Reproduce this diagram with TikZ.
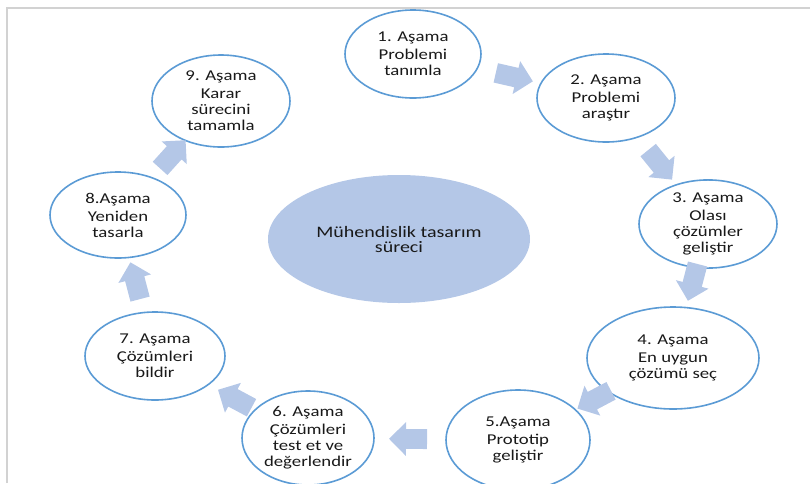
\documentclass[tikz,border=0pt]{standalone}
\usepackage{fontspec}
\setmainfont{Carlito}[FakeStretch=1.25]
\usetikzlibrary{shapes.geometric, shapes.arrows, calc}
\definecolor{rimblue}{RGB}{91,155,213}
\definecolor{paleblue}{RGB}{180,199,231}
\definecolor{framegray}{RGB}{210,210,210}

\begin{document}
\begin{tikzpicture}[
    x=0.5pt, y=-0.5pt, % one unit is one pixel of the sketch, y runs down
    every node/.style={font={\fontsize{7.5}{8}\selectfont}, text=black!90}, % text of all nodes
    stage/.style={ellipse, draw=rimblue, line width=0.8pt, fill=white, inner sep=0pt, align=center}, % the nine steps
    core/.style={ellipse, fill=paleblue, inner sep=0pt, align=center, font={\fontsize{8}{7.5}\selectfont}},
    flow/.style={single arrow, fill=paleblue, inner xsep=0pt, inner ysep=4.75pt, minimum height=19pt,
      single arrow head extend=3.5pt}
  ]

  \path[use as bounding box, clip] (0,0) rectangle (810,483);
  \draw[framegray, line width=1pt] (7,483) -- (7,8) -- (810,8);

  \node[core, minimum width=131pt, minimum height=64pt] (m) at (399,239) {Mühendislik tasarım\\süreci};

  \node[stage, minimum width=68pt, minimum height=44pt] (a1) at (413,54) {1. Aşama\\[1pt]Problemi\\tanımla};
  \node[stage, minimum width=69pt, minimum height=44pt] (a2) at (606,98) {2. Aşama\\[1pt]Problemi\\araştır};
  \node[stage, minimum width=69pt, minimum height=41pt] (a3) at (708,224) {3. Aşama\\[1pt]Olası\\çözümler\\geliştir};
  \node[stage, minimum width=86pt, minimum height=51pt] (a4) at (673,358) {4. Aşama\\[1pt]En uygun\\çözümü seç};
  \node[stage, minimum width=72pt, minimum height=50pt] (a5) at (518,440) {5.Aşama\\[1pt]Prototip\\geliştir};
  \node[stage, minimum width=66pt, minimum height=47pt] (a6) at (308,438) {6. Aşama\\[1pt]Çözümleri\\test et ve\\değerlendir};
  \node[stage, minimum width=70pt, minimum height=44pt] (a7) at (155,356) {7. Aşama\\[1pt]Çözümleri\\bildir};
  \node[stage, minimum width=68pt, minimum height=43pt] (a8) at (118,215) {8.Aşama\\[1pt]Yeniden\\tasarla};
  \node[stage, minimum width=69pt, minimum height=46pt] (a9) at (221,101) {9. Aşama\\[1pt]Karar\\sürecini\\tamamla};

  % block arrows between the steps, turned along the line between them
  \foreach \i/\j/\t in {1/2/0.5, 2/3/0.5, 3/4/0.4, 4/5/0.48, 5/6/0.5, 6/7/0.45, 7/8/0.5, 8/9/0.5}
    \path let \p1 = ($(a\j)-(a\i)$), \n1 = {atan2(\y1,\x1)} in
      node[flow, rotate=\n1] (f\i) at ($(a\i)!\t!(a\j)$) {};

\end{tikzpicture}
\end{document}
